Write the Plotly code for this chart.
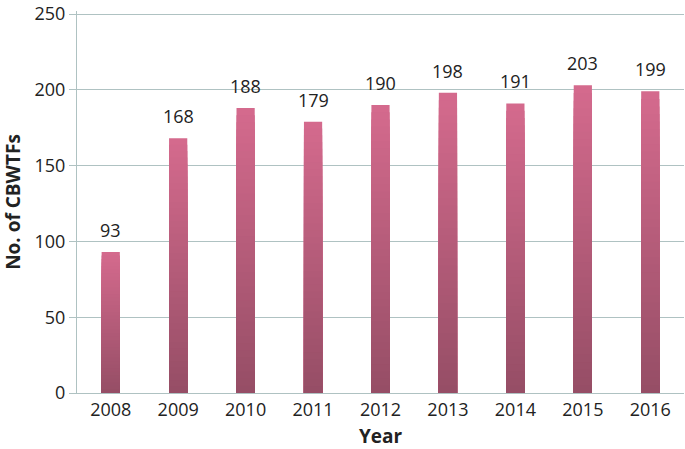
import plotly.graph_objects as go

years = ["2008", "2009", "2010", "2011", "2012", "2013", "2014", "2015", "2016"]
counts = [93, 168, 188, 179, 190, 198, 191, 203, 199]
y_ticks = [0, 50, 100, 150, 200, 250]

top_rgb = (212, 106, 141)
bot_rgb = (150, 78, 102)
N = 40

fig = go.Figure()
for k in range(N):
    t = k / (N - 1)
    c = tuple(round(top_rgb[i] + (bot_rgb[i] - top_rgb[i]) * t) for i in range(3))
    frac = (N - k) / N
    fig.add_trace(go.Bar(
        x=years, y=[v * frac for v in counts],
        marker=dict(color="rgb(%d,%d,%d)" % c, line=dict(width=0)),
        width=0.27, showlegend=False, hoverinfo="skip",
    ))

for i, v in enumerate(counts):
    fig.add_annotation(x=i, y=v, text=str(v), showarrow=False,
                       yanchor="bottom", yshift=8,
                       font=dict(size=18, color="#222222"))

grid = "#AFC2C2"
ff = "Open Sans, Liberation Sans, sans-serif"
fig.update_layout(
    barmode="overlay",
    width=685, height=449,
    margin=dict(l=77, r=1, t=4, b=56),
    plot_bgcolor="white", paper_bgcolor="white",
    font=dict(family=ff, size=18, color="#222222"),
    xaxis=dict(
        type="category",
        title=dict(text="<b>Year</b>", standoff=13, font=dict(family=ff, size=19, color="#222222")),
        showline=True, linecolor=grid, linewidth=1.2, tickfont=dict(size=18),
    ),
    yaxis=dict(
        title=dict(text="<b>No. of CBWTFs</b>", standoff=9, font=dict(family=ff, size=19, color="#222222")),
        range=[0, 252], tickvals=y_ticks, gridcolor=grid, gridwidth=1.2,
        showline=True, linecolor=grid, linewidth=1.2, ticks="outside", ticklen=7,
        tickcolor=grid, zeroline=False, ticklabeloverflow="allow",
        tickfont=dict(size=18),
    ),
)
fig.write_html("out.html", config={"displayModeBar": False},
               post_script="document.body.style.margin='0';")
